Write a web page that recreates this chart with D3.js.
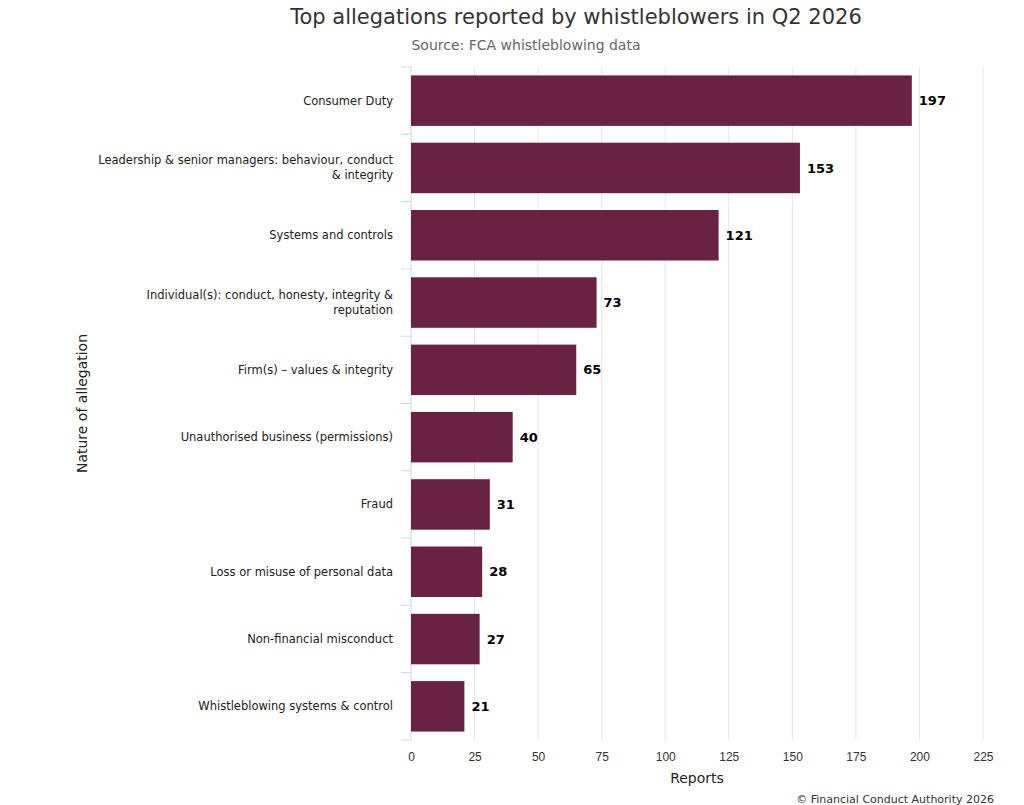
<!DOCTYPE html>
<meta charset="utf-8">
<style>
body { margin: 0; background: #fff; }
svg { font-family: "DejaVu Sans", Verdana, sans-serif; }
.title { fill: #333; font-size: 21px; }
.subtitle { fill: #666; font-size: 14px; }
.cat { fill: #222; font-size: 11.5px; }
.val { fill: #000; font-size: 13px; font-weight: bold; }
.tick text { fill: #333; font-size: 12px; }
.grid line { stroke: #e6e6e6; }
.axis-title { fill: #222; font-size: 14px; }
.credit { fill: #333; font-size: 11px; }
</style>
<body>
<div id="chart"></div>
<script src="https://cdn.jsdelivr.net/npm/d3@7"></script>
<script>
var categories = [
  "Consumer Duty",
  "Leadership & senior managers: behaviour, conduct & integrity",
  "Systems and controls",
  "Individual(s): conduct, honesty, integrity & reputation",
  "Firm(s) \u2013 values & integrity",
  "Unauthorised business (permissions)",
  "Fraud",
  "Loss or misuse of personal data",
  "Non-financial misconduct",
  "Whistleblowing systems & control"
];
var reports = [197, 153, 121, 73, 65, 40, 31, 28, 27, 21];
var xTicks = [0, 25, 50, 75, 100, 125, 150, 175, 200, 225];

var width = 1024, height = 805;
var plotLeft = 411, plotRight = 983, plotTop = 67, plotBottom = 740;

var svg = d3.select("#chart").append("svg")
    .attr("width", width)
    .attr("height", height);

var x = d3.scaleLinear().domain([0, 225]).range([plotLeft, plotRight]);
var y = d3.scaleBand().domain(categories).range([plotTop, plotBottom]).paddingInner(0.25).paddingOuter(0.125);

// gridlines
svg.append("g").attr("class", "grid")
  .selectAll("line")
  .data(xTicks.slice(1))
  .enter().append("line")
    .attr("x1", function(d) { return x(d); })
    .attr("x2", function(d) { return x(d); })
    .attr("y1", plotTop)
    .attr("y2", plotBottom);

// y axis line and category ticks
svg.append("line")
    .attr("x1", plotLeft).attr("x2", plotLeft)
    .attr("y1", plotTop).attr("y2", plotBottom)
    .attr("stroke", "#ccd6eb");

var step = y.step();
svg.append("g")
  .selectAll("line")
  .data(d3.range(categories.length + 1))
  .enter().append("line")
    .attr("x1", plotLeft - 10).attr("x2", plotLeft)
    .attr("y1", function(i) { return plotTop + i * step; })
    .attr("y2", function(i) { return plotTop + i * step; })
    .attr("stroke", "#ccd6eb");

// bars
svg.append("g")
  .selectAll("rect")
  .data(reports)
  .enter().append("rect")
    .attr("x", x(0))
    .attr("y", function(d, i) { return y(categories[i]); })
    .attr("width", function(d) { return x(d) - x(0); })
    .attr("height", y.bandwidth())
    .attr("fill", "#692242");

// value labels
svg.append("g")
  .selectAll("text")
  .data(reports)
  .enter().append("text")
    .attr("class", "val")
    .attr("x", function(d) { return x(d) + 7; })
    .attr("y", function(d, i) { return y(categories[i]) + y.bandwidth() / 2; })
    .attr("dy", "0.35em")
    .text(function(d) { return d; });

// category labels, wrapped
var labels = svg.append("g")
  .selectAll("text")
  .data(categories)
  .enter().append("text")
    .attr("class", "cat")
    .attr("text-anchor", "end")
    .attr("x", plotLeft - 18);

labels.each(function(d) {
  var el = d3.select(this);
  var words = d.split(" "), lines = [], line = [];
  var probe = el.append("tspan");
  words.forEach(function(w) {
    line.push(w);
    probe.text(line.join(" "));
    if (probe.node().getComputedTextLength() > 300 && line.length > 1) {
      line.pop();
      lines.push(line.join(" "));
      line = [w];
    }
  });
  lines.push(line.join(" "));
  probe.remove();
  var cy = y(d) + y.bandwidth() / 2;
  var lh = 15;
  lines.forEach(function(t, i) {
    el.append("tspan")
      .attr("x", plotLeft - 18)
      .attr("y", cy + (i - (lines.length - 1) / 2) * lh)
      .attr("dy", "0.35em")
      .text(t);
  });
});

// x axis
var xAxis = svg.append("g")
    .attr("transform", "translate(0," + plotBottom + ")")
    .call(d3.axisBottom(x).tickValues(xTicks).tickSize(0).tickPadding(12));
xAxis.select(".domain").remove();

svg.append("text")
    .attr("class", "axis-title")
    .attr("x", (plotLeft + plotRight) / 2)
    .attr("y", 783)
    .attr("text-anchor", "middle")
    .text("Reports");

svg.append("text")
    .attr("class", "axis-title")
    .attr("transform", "translate(87," + ((plotTop + plotBottom) / 2) + ") rotate(-90)")
    .attr("text-anchor", "middle")
    .text("Nature of allegation");

svg.append("text")
    .attr("class", "title")
    .attr("x", 576)
    .attr("y", 24)
    .attr("text-anchor", "middle")
    .text("Top allegations reported by whistleblowers in Q2 2026");

svg.append("text")
    .attr("class", "subtitle")
    .attr("x", 526)
    .attr("y", 50)
    .attr("text-anchor", "middle")
    .text("Source: FCA whistleblowing data");

svg.append("text")
    .attr("class", "credit")
    .attr("x", 994)
    .attr("y", 803)
    .attr("text-anchor", "end")
    .text("\u00a9 Financial Conduct Authority 2026");
</script>
</body>
